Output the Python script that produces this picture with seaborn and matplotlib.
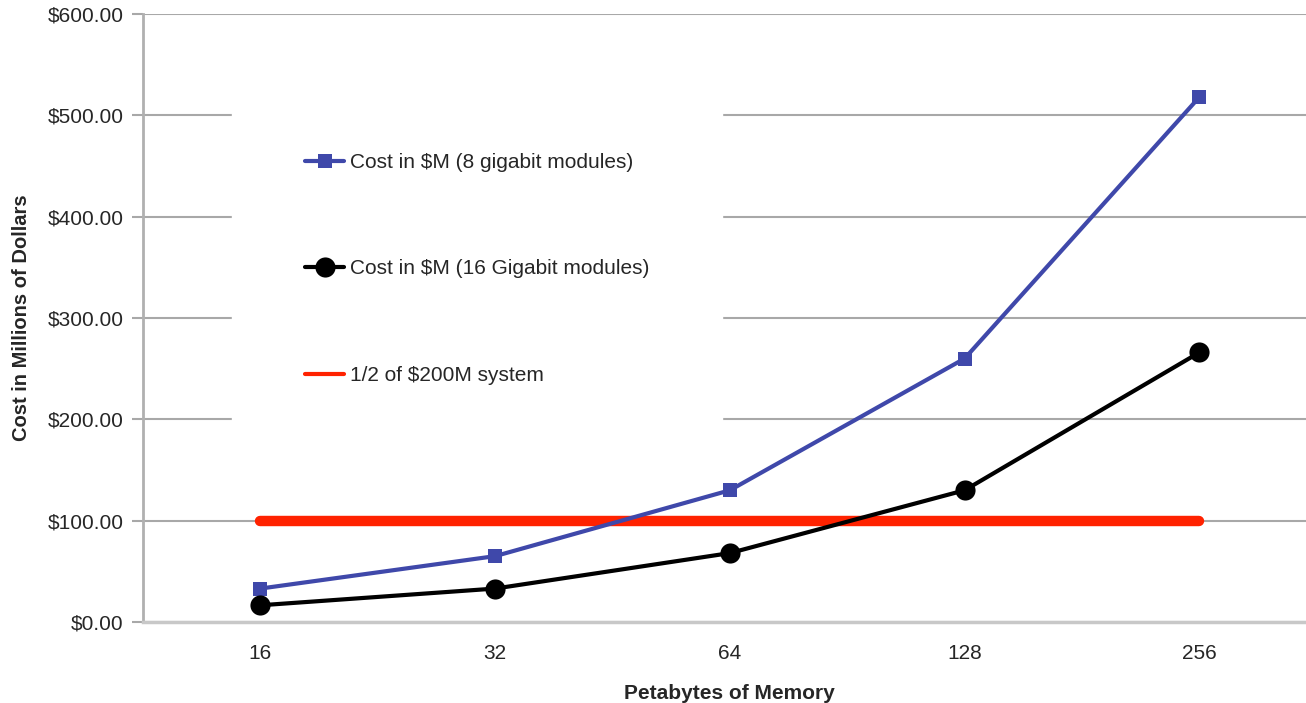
import pandas as pd
import matplotlib
matplotlib.use('Agg')
import matplotlib.pyplot as plt
import seaborn as sns

# values
memory = ['16', '32', '64', '128', '256']
cost_8gb = [33, 65, 130, 260, 518]
cost_16gb = [16.5, 33, 68, 130, 266]
half_system = [100, 100, 100, 100, 100]

sns.set_style('white')
plt.rcParams['font.family'] = ['Liberation Sans', 'DejaVu Sans']

fig = plt.figure(figsize=(13.06, 7.03), dpi=100)
ax = fig.add_axes([143 / 1306, 1 - 622 / 703, (5 * 234.75) / 1306, (622 - 14) / 703])

data = pd.DataFrame({'memory': memory, 'c8': cost_8gb, 'c16': cost_16gb, 'half': half_system})

sns.lineplot(data=data, x='memory', y='c8', ax=ax, color='#3f48aa', lw=3, marker='s',
             markersize=10.5, markeredgewidth=0, label='Cost in $M (8 gigabit modules)', zorder=4)
sns.lineplot(data=data, x='memory', y='c16', ax=ax, color='black', lw=3, marker='o',
             markersize=14.5, markeredgewidth=0, label='Cost in $M (16 Gigabit modules)', zorder=4)
sns.lineplot(data=data, x='memory', y='half', ax=ax, color='#ff2200', lw=7.5,
             solid_capstyle='round', label='1/2 of $200M system', zorder=3)

ax.set_xlim(-0.5, 4.5)
ax.set_ylim(0, 600)
ax.set_yticks(range(0, 601, 100))
ax.set_yticklabels([f'${v:.2f}' for v in range(0, 601, 100)])
ax.yaxis.grid(True, color='#a8a8a8', lw=1.5)
ax.set_axisbelow(True)

# tick marks between categories, none under the labels
ax.set_xticks([i - 0.5 for i in range(6)], minor=True)
ax.tick_params(axis='x', which='major', length=0, pad=16, labelsize=15)
ax.tick_params(axis='x', which='minor', length=6, color='#a0a0a0', width=1.5, direction='out')
ax.tick_params(axis='y', length=8, color='#a8a8a8', width=1.5, pad=6, labelsize=15, left=True)

for side in ['top', 'right']:
    ax.spines[side].set_visible(False)
ax.spines['left'].set_color('#b0b0b0')
ax.spines['left'].set_linewidth(2)
ax.spines['bottom'].set_color('#c8c8c8')
ax.spines['bottom'].set_linewidth(2.5)

ax.set_xlabel('Petabytes of Memory', fontsize=15, fontweight='bold', labelpad=15)
ax.set_ylabel('Cost in Millions of Dollars', fontsize=14.5, fontweight='bold', labelpad=12)

leg = ax.legend(loc='upper left', bbox_to_anchor=(232 / 1306, 1 - 80 / 703),
                bbox_transform=fig.transFigure, fontsize=15, frameon=True,
                facecolor='white', edgecolor='white', framealpha=1, fancybox=False,
                borderpad=3.5, borderaxespad=0, labelspacing=4.2,
                handlelength=1.9, handletextpad=0.25)
leg.set_zorder(2)
leg.get_lines()[2].set_linewidth(3)

fig.savefig('out.png', dpi=100)
